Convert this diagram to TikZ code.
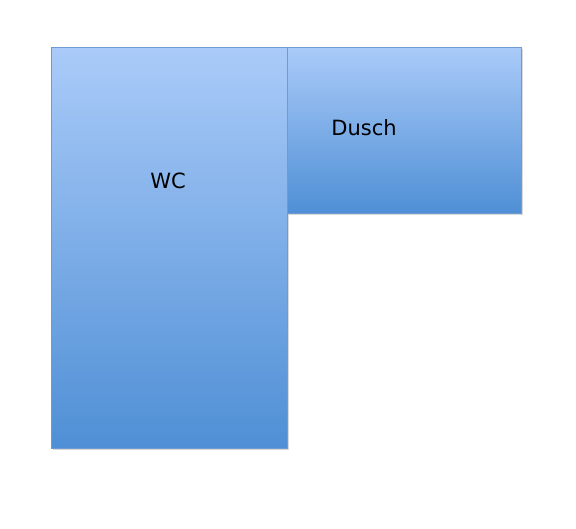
\documentclass[tikz,border=0pt]{standalone}
\usepackage{fontspec}
\setmainfont{DejaVu Sans}
\usetikzlibrary{shadows}
\definecolor{roomtop}{HTML}{AACBF9}
\definecolor{roombottom}{HTML}{4F8FD5}
\definecolor{roomedge}{HTML}{6F9BD2}
\tikzset{
  room/.style={draw=roomedge, line width=0.8pt, top color=roomtop, bottom color=roombottom,
    drop shadow={opacity=0.3, shadow xshift=1.5pt, shadow yshift=-2pt}},
  roomlabel/.style={font=\fontsize{21}{25}\selectfont, text=black}
}
\begin{document}
\begin{tikzpicture}[x=1pt, y=-1pt]
        \useasboundingbox (0,0) rectangle (576,528);
        
        % Rooms
        \path[room] (51,47) rectangle (287,448);  % WC
        \path[room] (287,47) rectangle (521,213); % Dusch
        
        \node[roomlabel] (wc) at (168,181) {WC};
        \node[roomlabel] (dusch) at (364,128) {Dusch};
        
        \end{tikzpicture}
\end{document}
